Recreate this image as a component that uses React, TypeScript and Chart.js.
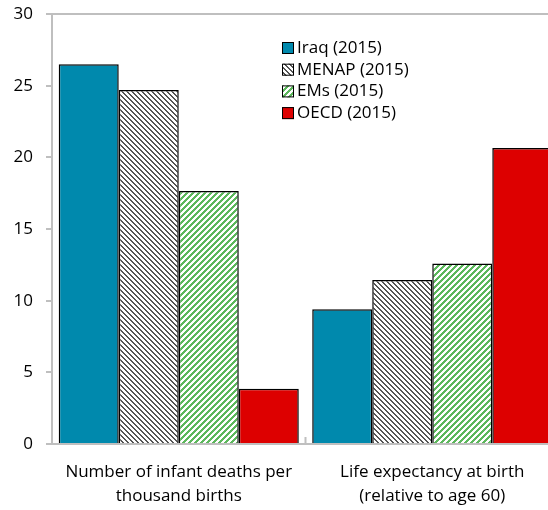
import React, { useEffect, useRef } from "react";
import { Chart, registerables } from "chart.js";

Chart.register(...registerables);

const categories: string[][] = [
  ["Number of infant deaths per", "thousand births"],
  ["Life expectancy at birth", "(relative to age 60)"],
];
const seriesNames = ["Iraq (2015)", "MENAP (2015)", "EMs (2015)", "OECD (2015)"];
const iraq = [26.5, 9.4];
const menap = [24.7, 11.45];
const ems = [17.65, 12.6];
const oecd = [3.85, 20.65];
const yTicks = [0, 5, 10, 15, 20, 25, 30];

const FONT = "'Open Sans', 'DejaVu Sans', sans-serif";

function makePattern(color: string, dir: "down" | "up", size: number, band: number): CanvasPattern | string {
  const c = document.createElement("canvas");
  c.width = size;
  c.height = size;
  const ctx = c.getContext("2d");
  if (!ctx) return color;
  ctx.fillStyle = "#ffffff";
  ctx.fillRect(0, 0, size, size);
  ctx.fillStyle = color;
  for (let x = 0; x < size; x++) {
    for (let y = 0; y < size; y++) {
      const v = dir === "down" ? (((x - y) % size) + size) % size : (x + y) % size;
      if (v < band) ctx.fillRect(x, y, 1, 1);
    }
  }
  const p = ctx.createPattern(c, "repeat");
  return p || color;
}

export default function App() {
  const ref = useRef<HTMLCanvasElement | null>(null);

  useEffect(() => {
    if (!ref.current) return;
    const menapPat = makePattern("#555555", "down", 5, 2);
    const emsPat = makePattern("#5cb85c", "up", 6, 3);
    const swatches = ["#0089AD", menapPat, emsPat, "#DD0000"];

    const legendPlugin = {
      id: "customLegend",
      afterDraw(chart: any) {
        const ctx = chart.ctx;
        const area = chart.chartArea;
        ctx.save();
        ctx.strokeStyle = "#BFBFBF";
        ctx.lineWidth = 2;
        ctx.beginPath();
        ctx.moveTo(area.left, area.top);
        ctx.lineTo(area.right, area.top);
        ctx.stroke();
        const xs = chart.scales.x;
        const mid = (xs.getPixelForValue(0) + xs.getPixelForValue(1)) / 2;
        ctx.beginPath();
        ctx.moveTo(mid, area.bottom);
        ctx.lineTo(mid, area.bottom - 7);
        ctx.stroke();
        const lx = 282;
        const ly0 = 42;
        const gap = 21.7;
        ctx.font = `17px ${FONT}`;
        ctx.textBaseline = "middle";
        seriesNames.forEach((name, i) => {
          const y = ly0 + i * gap;
          ctx.fillStyle = swatches[i] as any;
          ctx.fillRect(lx, y, 12, 12);
          ctx.strokeStyle = "#000";
          ctx.lineWidth = 1;
          ctx.strokeRect(lx + 0.5, y + 0.5, 11, 11);
          ctx.fillStyle = "#000";
          ctx.fillText(name, lx + 15, y + 6);
        });
        ctx.restore();
      },
    };

    const mk = (label: string, data: number[], bg: any) => ({
      label,
      data,
      backgroundColor: bg,
      borderColor: "#000000",
      borderWidth: 1.5,
      borderSkipped: "bottom" as const,
      barPercentage: 1,
      categoryPercentage: 0.947,
    });

    const chart = new Chart(ref.current, {
      type: "bar",
      data: {
        labels: categories,
        datasets: [
          mk(seriesNames[0], iraq, swatches[0]),
          mk(seriesNames[1], menap, swatches[1]),
          mk(seriesNames[2], ems, swatches[2]),
          mk(seriesNames[3], oecd, swatches[3]),
        ],
      },
      options: {
        responsive: false,
        animation: false,
        layout: { padding: { top: 14, right: 11, left: 0, bottom: 0 } },
        plugins: {
          legend: { display: false },
          tooltip: { enabled: false },
        },
        scales: {
          x: {
            grid: { display: false, drawOnChartArea: false },
            border: { color: "#BFBFBF", width: 2 },
            ticks: {
              color: "#000",
              font: { family: FONT, size: 17, lineHeight: 1.4 },
              padding: 8,
              maxRotation: 0,
            },
            afterFit(scale: any) {
              scale.height = 66;
              scale.paddingLeft = 0;
              scale.paddingRight = 0;
            },
          },
          y: {
            min: 0,
            max: 30,
            afterBuildTicks(scale: any) {
              scale.ticks = yTicks.map((v) => ({ value: v }));
            },
            grid: {
              drawOnChartArea: false,
              drawTicks: true,
              tickLength: 6,
              color: "#BFBFBF",
              lineWidth: 2,
            },
            border: { color: "#BFBFBF", width: 2 },
            ticks: {
              color: "#000",
              font: { family: FONT, size: 17 },
              padding: 13,
            },
            afterFit(scale: any) {
              scale.width = 52;
              scale.paddingTop = 0;
              scale.paddingBottom = 0;
            },
          },
        },
      },
      plugins: [legendPlugin],
    });
    return () => chart.destroy();
  }, []);

  return (
    <div style={{ position: "fixed", left: 0, top: 0, width: 548, height: 510, overflow: "hidden", background: "#fff" }}>
      <canvas ref={ref} width={570} height={510} style={{ display: "block", width: 570, height: 510 }} />
    </div>
  );
}
